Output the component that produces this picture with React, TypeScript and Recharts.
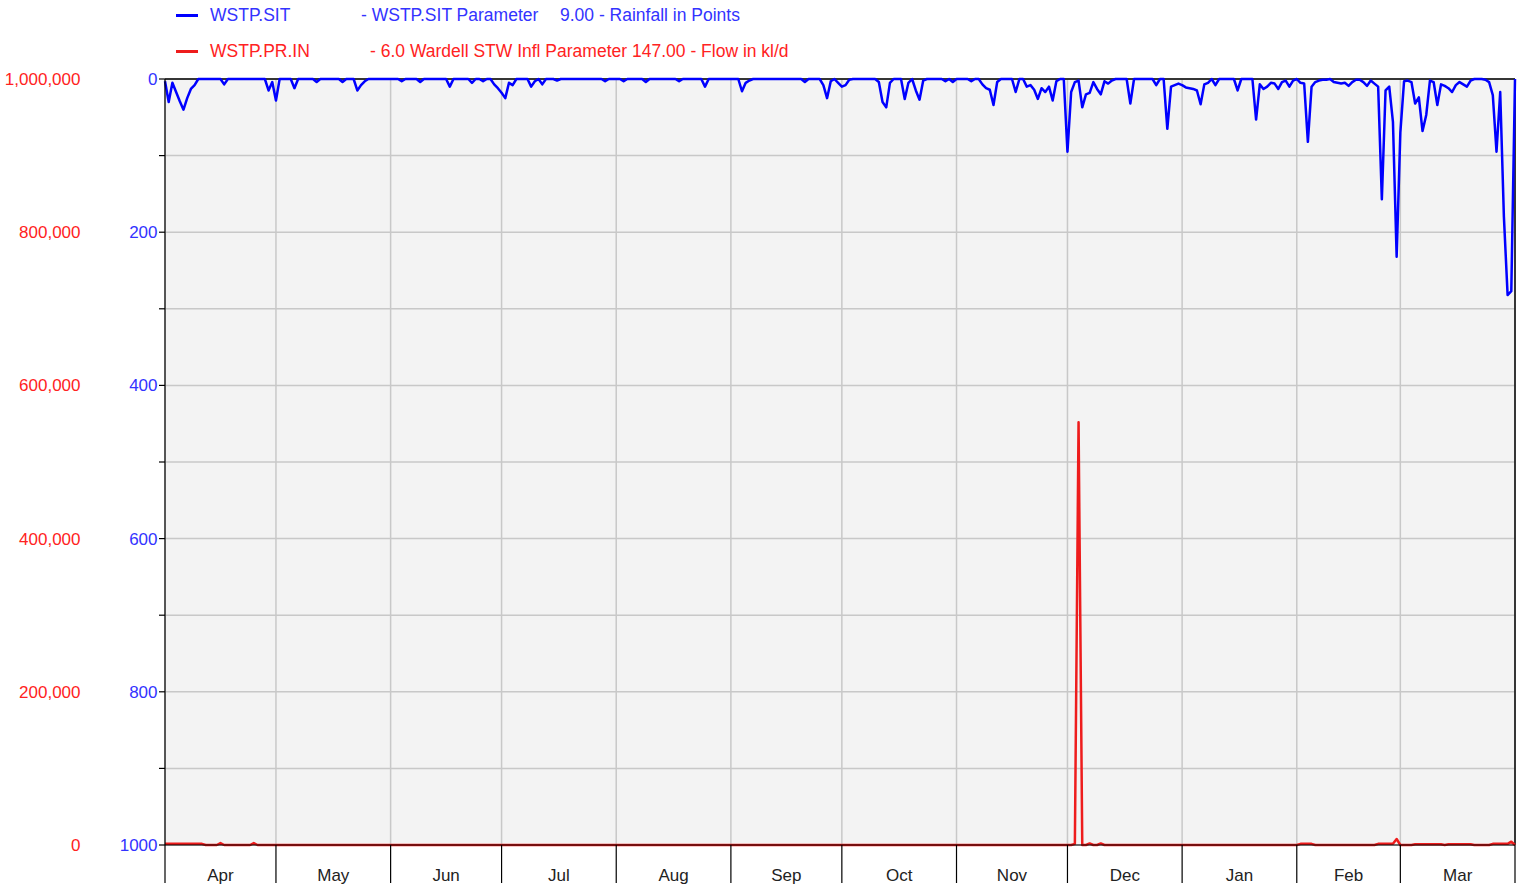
import React from 'react';
import {
  ComposedChart,
  Line,
  XAxis,
  YAxis,
  CartesianGrid,
  ReferenceLine,
  Legend,
} from 'recharts';

// Month names and first day index (day 0 = 1 Apr) of each month, plus end
const monthNames = ['Apr', 'May', 'Jun', 'Jul', 'Aug', 'Sep', 'Oct', 'Nov', 'Dec', 'Jan', 'Feb', 'Mar'];
const monthStartDays = [0, 30, 61, 91, 122, 153, 183, 214, 244, 275, 306, 334, 365];

// Rainfall in points: [day index, value] — days not listed are 0
const rainfallByDay: [number, number][] = [
  [0, 3], [1, 30], [2, 5], [3, 17], [4, 29], [5, 40], [6, 25], [7, 13], [8, 8], [16, 7], [28, 15], [29, 4],
  [30, 28], [35, 12], [41, 4], [48, 4], [52, 15], [53, 8], [54, 3],
  [64, 3], [69, 4], [77, 10], [83, 5], [86, 3], [89, 7], [90, 12],
  [91, 18], [92, 25], [93, 5], [94, 8], [99, 10], [100, 3], [102, 7], [106, 2], [119, 3],
  [124, 3], [130, 4], [139, 3], [146, 10],
  [156, 16], [157, 5], [158, 2], [173, 4], [178, 8], [179, 25], [180, 3], [182, 5],
  [183, 10], [184, 8], [185, 1], [193, 4], [194, 30], [195, 37], [196, 5], [200, 26], [201, 5], [203, 15], [204, 27], [205, 2], [211, 3], [213, 4],
  [218, 3], [221, 7], [222, 12], [223, 14], [224, 34], [225, 4], [230, 17], [233, 10], [234, 8], [235, 14], [236, 26], [237, 12], [238, 17], [239, 10], [240, 28], [241, 3],
  [244, 95], [245, 17], [246, 4], [247, 2], [248, 37], [249, 20], [250, 18], [251, 4], [252, 13], [253, 20], [254, 3], [255, 6], [256, 2], [261, 32], [268, 8], [271, 65], [272, 10], [273, 8], [274, 6],
  [275, 8], [276, 11], [277, 12], [278, 13], [279, 15], [280, 33], [281, 7], [282, 5], [284, 8], [290, 15], [295, 53], [296, 7], [297, 13], [298, 10], [299, 5], [300, 6], [301, 13], [302, 4], [303, 2], [304, 10], [305, 2],
  [307, 5], [308, 6], [309, 82], [310, 10], [311, 4], [312, 2], [313, 1], [314, 1], [316, 4], [317, 5], [318, 6], [319, 5], [320, 9], [321, 4], [322, 1], [323, 1], [324, 4], [325, 9], [326, 2], [327, 6], [328, 10], [329, 157], [330, 15], [331, 10], [332, 56], [333, 232],
  [334, 70], [335, 3], [336, 2], [337, 4], [338, 32], [339, 24], [340, 68], [341, 47], [342, 2], [343, 4], [344, 34], [345, 7], [346, 9], [347, 12], [348, 17], [349, 8], [350, 4], [351, 7], [352, 10], [353, 2], [357, 1], [358, 4], [359, 21], [360, 95], [361, 17], [362, 180], [363, 282], [364, 277],
];

// Inflow in kl/d: [day index, value] — days not listed are 0
const flowByDay: [number, number][] = [
  [0, 1500], [1, 1500], [2, 1500], [3, 1500], [4, 1500], [5, 1500], [6, 1500], [7, 1500], [8, 1500], [9, 1500], [10, 1500],
  [15, 2500], [24, 2500],
  [246, 1500], [247, 552000], [250, 2000], [253, 2000],
  [307, 1500], [308, 1500], [309, 1500], [310, 1500],
  [328, 1500], [329, 1500], [330, 1500], [331, 1500], [332, 1500], [333, 7800],
  [338, 1000], [339, 1000], [340, 1000], [341, 1000], [342, 1000], [343, 1000], [344, 1000], [345, 1000],
  [347, 1000], [348, 1000], [349, 1000], [350, 1000], [351, 1000], [352, 1000], [353, 1000],
  [359, 1500], [360, 1500], [361, 1500], [362, 1500], [363, 1500], [364, 4300],
];

const rainTicks = [0, 100, 200, 300, 400, 500, 600, 700, 800, 900, 1000];
const flowTicks = [0, 200000, 400000, 600000, 800000, 1000000];

const dayCount = 366;
const data = Array.from({ length: dayCount }, (_, d) => ({ day: d, rain: 0, flow: 0 }));
rainfallByDay.forEach(([d, v]) => { data[d].rain = v; });
flowByDay.forEach(([d, v]) => { data[d].flow = v; });

const monthMids = monthNames.map((_, i) => (monthStartDays[i] + monthStartDays[i + 1]) / 2);
const xTicks = [...monthStartDays, ...monthMids].sort((a, b) => a - b);

const BLUE = '#0000ff';
const RED = '#ee1c1c';
const BLUE_TEXT = '#3333ff';
const RED_TEXT = '#ff2222';
const FONT = '"Liberation Sans", Arial, sans-serif';

const MonthTick = (props: any) => {
  const { x, y, payload } = props;
  const v = payload.value;
  const bi = monthStartDays.indexOf(v);
  if (bi >= 0) {
    return <line x1={x} x2={x} y1={y} y2={y + 38} stroke="#000" strokeWidth={1.2} />;
  }
  const mi = monthMids.indexOf(v);
  return (
    <text x={x} y={y + 36} textAnchor="middle" fill="#222" fontSize={17} fontFamily={FONT}>
      {monthNames[mi]}
    </text>
  );
};

const LegendContent = () => {
  const txt = (left: number, top: number, color: string, s: string) => (
    <span style={{ position: 'absolute', left, top, color, fontSize: 17.5, lineHeight: '20px', whiteSpace: 'pre', fontFamily: FONT }}>{s}</span>
  );
  return (
    <div style={{ position: 'relative', width: 1525, height: 70 }}>
      <div style={{ position: 'absolute', left: 176, top: 13.5, width: 22, height: 3, background: BLUE }} />
      {txt(210, 5, BLUE_TEXT, 'WSTP.SIT')}
      {txt(361, 5, BLUE_TEXT, '- WSTP.SIT Parameter')}
      {txt(560, 5, BLUE_TEXT, '9.00 - Rainfall in Points')}
      <div style={{ position: 'absolute', left: 176, top: 49.5, width: 22, height: 3, background: RED }} />
      {txt(210, 41, RED_TEXT, 'WSTP.PR.IN')}
      {txt(370, 41, RED_TEXT, '- 6.0 Wardell STW Infl Parameter')}
      {txt(632, 41, RED_TEXT, '147.00 - Flow in kl/d')}
    </div>
  );
};

export default function App() {
  return (
    <div style={{ position: 'absolute', left: 0, top: 0, width: 1525, height: 890, background: '#fff' }}>
      <ComposedChart
        width={1525}
        height={890}
        data={data}
        margin={{ top: 79, right: 10, bottom: 0, left: 0 }}
        style={{ fontFamily: FONT }}
      >
        <XAxis
          xAxisId="main"
          dataKey="day"
          type="number"
          domain={[0, 365]}
          ticks={xTicks}
          interval={0}
          height={45}
          tickSize={0}
          tickMargin={0}
          tickLine={false}
          axisLine={{ stroke: '#000', strokeWidth: 1.2 }}
          tick={<MonthTick />}
        />
        <XAxis xAxisId="grid" dataKey="day" type="number" domain={[0, 365]} ticks={monthStartDays} height={0} hide />
        <YAxis
          yAxisId="blue"
          orientation="left"
          reversed
          type="number"
          domain={[0, 1000]}
          ticks={rainTicks}
          width={84}
          tickSize={6}
          tickMargin={1.5}
          interval={0}
          axisLine={{ stroke: '#000', strokeWidth: 1.2 }}
          tickLine={{ stroke: '#000', strokeWidth: 1.2 }}
          tick={{ fill: BLUE_TEXT, fontSize: 17 }}
          tickFormatter={(v: number) => (v % 200 === 0 ? String(v) : '')}
        />
        <YAxis
          yAxisId="red"
          orientation="left"
          type="number"
          domain={[0, 1000000]}
          ticks={flowTicks}
          width={81}
          tickSize={0}
          tickMargin={0.5}
          interval={0}
          axisLine={false}
          tickLine={false}
          tick={{ fill: RED_TEXT, fontSize: 17 }}
          tickFormatter={(v: number) => v.toLocaleString('en-US')}
        />
        <CartesianGrid
          xAxisId="grid"
          yAxisId="blue"
          fill="#f3f3f3"
          stroke="#c8c8c8"
          strokeWidth={1.5}
        />
        <ReferenceLine xAxisId="main" yAxisId="blue" y={0} stroke="#000" strokeWidth={1.5} />
        <ReferenceLine xAxisId="main" yAxisId="blue" x={365} stroke="#000" strokeWidth={1.5} />
        <Legend verticalAlign="middle" wrapperStyle={{ top: 0, left: 0, width: 1525, height: 70 }} content={<LegendContent />} />
        <Line
          xAxisId="main"
          yAxisId="red"
          dataKey="flow"
          type="linear"
          stroke={RED}
          strokeWidth={2.5}
          dot={false}
          activeDot={false}
          isAnimationActive={false}
          strokeLinejoin="round"
        />
        <Line
          xAxisId="main"
          yAxisId="blue"
          dataKey="rain"
          type="linear"
          stroke={BLUE}
          strokeWidth={2.5}
          dot={false}
          activeDot={false}
          isAnimationActive={false}
          strokeLinejoin="round"
        />
      </ComposedChart>
    </div>
  );
}
